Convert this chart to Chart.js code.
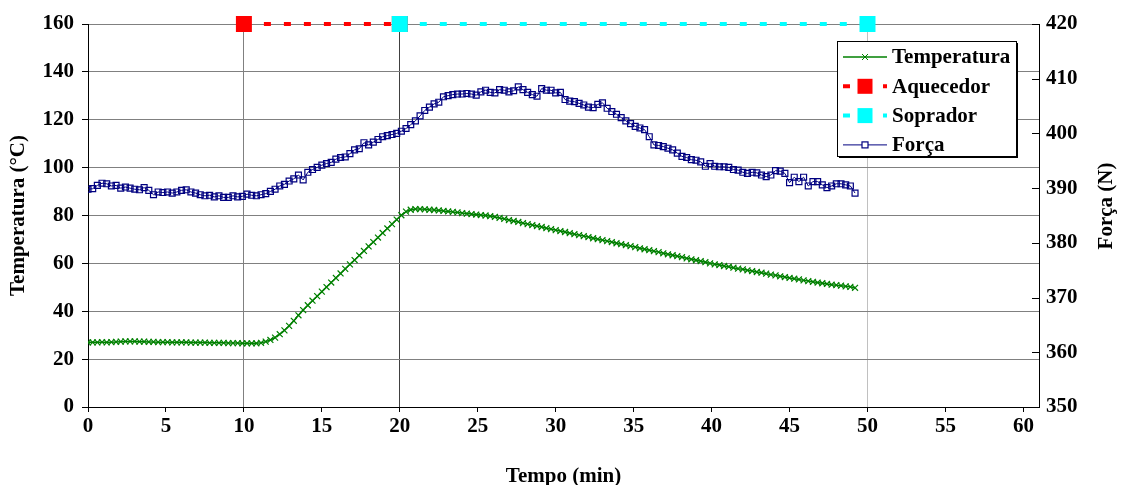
<!DOCTYPE html>
<html lang="pt">
  <head>
    <meta charset="UTF-8" />
    <title>Temperatura e Força</title>
    <style>
      body { margin: 0; background: #fff; }
      #wrap { width: 1122px; height: 485px; }
    </style>
  </head>
  <body>
    <div id="wrap"><canvas id="myChart" width="1122" height="485"></canvas></div>
  </body>
  <script src="https://cdn.jsdelivr.net/npm/chart.js"></script>
  <script>
    // tempo (min) das leituras
    var tempo = [
      0, 0.3, 0.6, 0.9, 1.2, 1.5, 1.8, 2.1, 2.4, 2.7,
      3, 3.3, 3.6, 3.9, 4.2, 4.5, 4.8, 5.1, 5.4, 5.7,
      6, 6.3, 6.6, 6.9, 7.2, 7.5, 7.8, 8.1, 8.4, 8.7,
      9, 9.3, 9.6, 9.9, 10.2, 10.5, 10.8, 11.1, 11.4, 11.7,
      12, 12.3, 12.6, 12.9, 13.2, 13.5, 13.8, 14.1, 14.4, 14.7,
      15, 15.3, 15.6, 15.9, 16.2, 16.5, 16.8, 17.1, 17.4, 17.7,
      18, 18.3, 18.6, 18.9, 19.2, 19.5, 19.8, 20.1, 20.4, 20.7,
      21, 21.3, 21.6, 21.9, 22.2, 22.5, 22.8, 23.1, 23.4, 23.7,
      24, 24.3, 24.6, 24.9, 25.2, 25.5, 25.8, 26.1, 26.4, 26.7,
      27, 27.3, 27.6, 27.9, 28.2, 28.5, 28.8, 29.1, 29.4, 29.7,
      30, 30.3, 30.6, 30.9, 31.2, 31.5, 31.8, 32.1, 32.4, 32.7,
      33, 33.3, 33.6, 33.9, 34.2, 34.5, 34.8, 35.1, 35.4, 35.7,
      36, 36.3, 36.6, 36.9, 37.2, 37.5, 37.8, 38.1, 38.4, 38.7,
      39, 39.3, 39.6, 39.9, 40.2, 40.5, 40.8, 41.1, 41.4, 41.7,
      42, 42.3, 42.6, 42.9, 43.2, 43.5, 43.8, 44.1, 44.4, 44.7,
      45, 45.3, 45.6, 45.9, 46.2, 46.5, 46.8, 47.1, 47.4, 47.7,
      48, 48.3, 48.6, 48.9, 49.2
    ];

    // temperatura (°C)
    var temperatura = [
      27.0, 27.0, 27.0, 27.1, 27.0, 27.1, 27.2, 27.3, 27.4, 27.4,
      27.4, 27.3, 27.3, 27.2, 27.2, 27.1, 27.1, 27.1, 27.0, 27.0,
      27.0, 27.0, 26.9, 26.9, 26.9, 26.9, 26.8, 26.8, 26.8, 26.8,
      26.7, 26.7, 26.7, 26.6, 26.6, 26.6, 26.6, 26.8, 27.3, 28.0,
      29.0, 30.4, 32.0, 33.9, 36.0, 38.3, 40.5, 42.5, 44.4, 46.3,
      48.2, 50.1, 52.0, 53.9, 55.8, 57.7, 59.6, 61.4, 63.3, 65.2,
      67.1, 68.9, 70.8, 72.7, 74.6, 76.4, 78.3, 80.1, 81.6, 82.4,
      82.7, 82.7, 82.6, 82.4, 82.3, 82.1, 81.9, 81.7, 81.5, 81.3,
      81.0, 80.8, 80.6, 80.4, 80.2, 80.0, 79.7, 79.4, 79.0, 78.6,
      78.1, 77.7, 77.3, 76.8, 76.4, 76.0, 75.6, 75.2, 74.7, 74.3,
      73.9, 73.5, 73.1, 72.6, 72.2, 71.8, 71.4, 71.0, 70.5, 70.1,
      69.7, 69.3, 68.9, 68.4, 68.0, 67.6, 67.2, 66.8, 66.3, 65.9,
      65.5, 65.1, 64.7, 64.2, 63.8, 63.4, 63.0, 62.6, 62.1, 61.7,
      61.3, 60.9, 60.5, 60.0, 59.6, 59.3, 58.9, 58.6, 58.2, 57.8,
      57.5, 57.1, 56.8, 56.4, 56.1, 55.7, 55.3, 55.0, 54.6, 54.3,
      53.9, 53.6, 53.3, 52.9, 52.6, 52.3, 52.0, 51.7, 51.4, 51.1,
      50.9, 50.7, 50.4, 50.2, 49.8
    ];

    // força (N), eixo da direita
    var forca = [
      389.8, 389.9, 390.5, 390.9, 390.8, 390.4, 390.5, 390.0, 390.2, 390.0,
      389.8, 389.7, 390.1, 389.6, 388.8, 389.3, 389.2, 389.3, 389.1, 389.3,
      389.6, 389.7, 389.3, 389.1, 388.8, 388.6, 388.7, 388.4, 388.6, 388.3,
      388.3, 388.6, 388.4, 388.5, 388.9, 388.7, 388.6, 388.8, 389.0, 389.4,
      389.8, 390.4, 390.7, 391.3, 391.7, 392.4, 391.5, 392.9, 393.4, 393.8,
      394.2, 394.5, 394.7, 395.3, 395.6, 395.7, 396.3, 397.0, 397.2, 398.3,
      397.9, 398.4, 398.9, 399.4, 399.6, 399.8, 400.0, 400.4, 400.9, 401.6,
      402.3, 403.2, 404.2, 404.8, 405.4, 405.7, 406.7, 406.9, 407.1, 407.2,
      407.2, 407.3, 407.2, 407.0, 407.6, 407.9, 407.5, 407.4, 408.0, 407.9,
      407.6, 407.8, 408.5, 408.0, 407.5, 407.1, 406.8, 408.2, 407.9, 407.9,
      407.4, 407.5, 406.2, 405.9, 405.8, 405.5, 405.2, 404.8, 404.7, 405.3,
      405.6, 404.6, 404.0, 403.5, 402.9, 402.3, 401.8, 401.3, 401.0, 400.7,
      399.4, 397.9, 397.8, 397.6, 397.3, 397.0, 396.4, 395.8, 395.6, 395.2,
      395.1, 394.8, 394.0, 394.5, 394.0, 393.9, 393.9, 393.8, 393.4, 393.3,
      392.9, 392.7, 392.9, 392.8, 392.4, 392.1, 392.4, 393.2, 393.1, 392.7,
      391.0, 392.0, 391.2, 392.0, 390.4, 391.2, 391.2, 390.6, 390.1, 390.4,
      390.8, 390.8, 390.6, 390.4, 389.1
    ];

    // aquecedor e soprador ligados (início, fim)
    var aquecedorTempo = [10, 20];
    var aquecedorNivel = [160, 160];
    var sopradorTempo = [20, 50];
    var sopradorNivel = [160, 160];

    var xTicks = [0, 5, 10, 15, 20, 25, 30, 35, 40, 45, 50, 55, 60];

    function pares(xs, ys) {
      return xs.map(function (x, i) { return { x: x, y: ys[i] }; });
    }

    var FONT = "'Liberation Serif', 'Times New Roman', serif";
    Chart.defaults.font.family = FONT;
    Chart.defaults.font.weight = "bold";
    Chart.defaults.font.size = 21;
    Chart.defaults.color = "#000";

    var boldFont = { family: FONT, weight: "bold", size: 21, lineHeight: 1 };
    var titleFont = { family: FONT, weight: "bold", size: 21, lineHeight: 0.8 };

    // marcas internas no eixo da direita + título girado
    var rightAxis = {
      id: "rightAxis",
      afterDraw: function (chart) {
        var ctx = chart.ctx, s = chart.scales.y1, r = chart.chartArea.right;
        ctx.save();
        ctx.strokeStyle = "#000";
        ctx.lineWidth = 1;
        s.ticks.forEach(function (t) {
          var y = Math.round(s.getPixelForValue(t.value)) + 0.5;
          ctx.beginPath();
          ctx.moveTo(r - 7, y);
          ctx.lineTo(r, y);
          ctx.stroke();
        });
        ctx.translate(1107, 206);
        ctx.rotate(-Math.PI / 2);
        ctx.fillStyle = "#000";
        ctx.font = "bold 21px " + FONT;
        ctx.textAlign = "center";
        ctx.textBaseline = "middle";
        ctx.fillText("Força (N)", 0, 0);
        ctx.restore();
      }
    };

    // legenda em caixa dentro do gráfico
    var boxLegend = {
      id: "boxLegend",
      afterDraw: function (chart) {
        var ctx = chart.ctx;
        var bx = 837, by = 41, bw = 179, bh = 115;
        ctx.save();
        ctx.fillStyle = "#000";
        ctx.fillRect(bx + 2, by + 2, bw, bh);
        ctx.fillStyle = "#fff";
        ctx.fillRect(bx, by, bw, bh);
        ctx.strokeStyle = "#000";
        ctx.lineWidth = 1;
        ctx.strokeRect(bx + 0.5, by + 0.5, bw, bh);

        var order = ["Temperatura", "Aquecedor", "Soprador", "Força"];
        order.forEach(function (name, i) {
          var ds = chart.data.datasets.find(function (d) { return d.label === name; });
          var cy = 57 + i * 29.3;
          ctx.save();
          ctx.strokeStyle = ds.borderColor;
          ctx.lineWidth = ds.borderWidth;
          ctx.setLineDash(ds.borderDash || []);
          ctx.beginPath();
          ctx.moveTo(843, cy);
          ctx.lineTo(887, cy);
          ctx.stroke();
          ctx.setLineDash([]);
          var cx = 865;
          if (ds.pointStyle === "crossRot") {
            ctx.strokeStyle = ds.pointBorderColor;
            ctx.lineWidth = 1;
            ctx.beginPath();
            ctx.moveTo(cx - 3, cy - 3); ctx.lineTo(cx + 3, cy + 3);
            ctx.moveTo(cx + 3, cy - 3); ctx.lineTo(cx - 3, cy + 3);
            ctx.stroke();
          } else if (ds.label === "Força") {
            ctx.fillStyle = "#fff";
            ctx.fillRect(cx - 3, cy - 3, 6, 6);
            ctx.strokeStyle = ds.pointBorderColor;
            ctx.lineWidth = 1.2;
            ctx.strokeRect(cx - 3, cy - 3, 6, 6);
          } else {
            ctx.fillStyle = ds.pointBackgroundColor;
            ctx.fillRect(cx - 7.5, cy - 7.5, 15, 15);
          }
          ctx.restore();
          ctx.fillStyle = "#000";
          ctx.font = "bold 21px " + FONT;
          ctx.textBaseline = "middle";
          ctx.fillText(name, 892, cy + 1);
        });
        ctx.restore();
      }
    };

    var vLineColor = { 10: "#808080", 20: "#404040", 50: "#c0c0c0" };

    var config = {
      type: "line",
      data: {
        datasets: [
          {
            label: "Soprador",
            data: pares(sopradorTempo, sopradorNivel),
            yAxisID: "y",
            borderColor: "#00ffff",
            borderWidth: 4,
            borderDash: [7, 13],
            pointStyle: "rect",
            pointRadius: 11.3,
            pointBorderWidth: 0,
            pointBackgroundColor: "#00ffff",
            pointBorderColor: "#00ffff",
            clip: false
          },
          {
            label: "Aquecedor",
            data: pares(aquecedorTempo, aquecedorNivel),
            yAxisID: "y",
            borderColor: "#ff0000",
            borderWidth: 4,
            borderDash: [7, 13],
            pointStyle: "rect",
            pointRadius: 11.3,
            pointBorderWidth: 0,
            pointBackgroundColor: "#ff0000",
            pointBorderColor: "#ff0000",
            clip: false
          },
          {
            label: "Temperatura",
            data: pares(tempo, temperatura),
            yAxisID: "y",
            borderColor: "#008000",
            borderWidth: 1.5,
            pointStyle: "crossRot",
            pointRadius: 4.2,
            pointBorderWidth: 1.2,
            pointBorderColor: "#008000",
            pointBackgroundColor: "#008000"
          },
          {
            label: "Força",
            data: pares(tempo, forca),
            yAxisID: "y1",
            borderColor: "#000080",
            borderWidth: 1,
            pointStyle: "rect",
            pointRadius: 4.2,
            pointBorderWidth: 1.2,
            pointBorderColor: "#000080",
            pointBackgroundColor: "rgba(0,0,0,0)"
          }
        ]
      },
      options: {
        responsive: false,
        animation: false,
        layout: { padding: { top: 24, left: 0, right: 0, bottom: 0 } },
        plugins: { legend: { display: false }, tooltip: { enabled: false } },
        elements: { line: { tension: 0 } },
        scales: {
          x: {
            type: "linear",
            min: 0,
            max: 61,
            afterBuildTicks: function (s) {
              s.ticks = xTicks.map(function (v) { return { value: v }; });
            },
            afterFit: function (s) { s.height = 78; },
            border: { color: "#000", width: 1 },
            grid: {
              color: function (c) { return vLineColor[c.tick.value] || "rgba(0,0,0,0)"; },
              tickColor: "#000",
              tickLength: 5
            },
            ticks: { font: boldFont, padding: 4, maxRotation: 0 },
            title: { display: true, text: "Tempo (min)", font: titleFont, padding: { top: 0, bottom: 0 } }
          },
          y: {
            position: "left",
            min: 0,
            max: 160,
            afterFit: function (s) { s.width = 88; },
            border: { color: "#000", width: 1 },
            grid: { color: "#808080", tickColor: "#000", tickLength: 6 },
            ticks: { stepSize: 20, font: boldFont, padding: 8 },
            title: { display: true, text: "Temperatura (°C)", font: boldFont, padding: { top: 8, bottom: 0 } }
          },
          y1: {
            position: "right",
            min: 350,
            max: 420,
            afterFit: function (s) { s.width = 83; },
            border: { color: "#000", width: 1 },
            grid: { drawOnChartArea: false, drawTicks: false },
            ticks: { stepSize: 10, font: boldFont, padding: 7 },
            title: { display: false }
          }
        }
      },
      plugins: [rightAxis, boxLegend]
    };

    var myChart = new Chart(document.getElementById("myChart"), config);
  </script>
</html>
